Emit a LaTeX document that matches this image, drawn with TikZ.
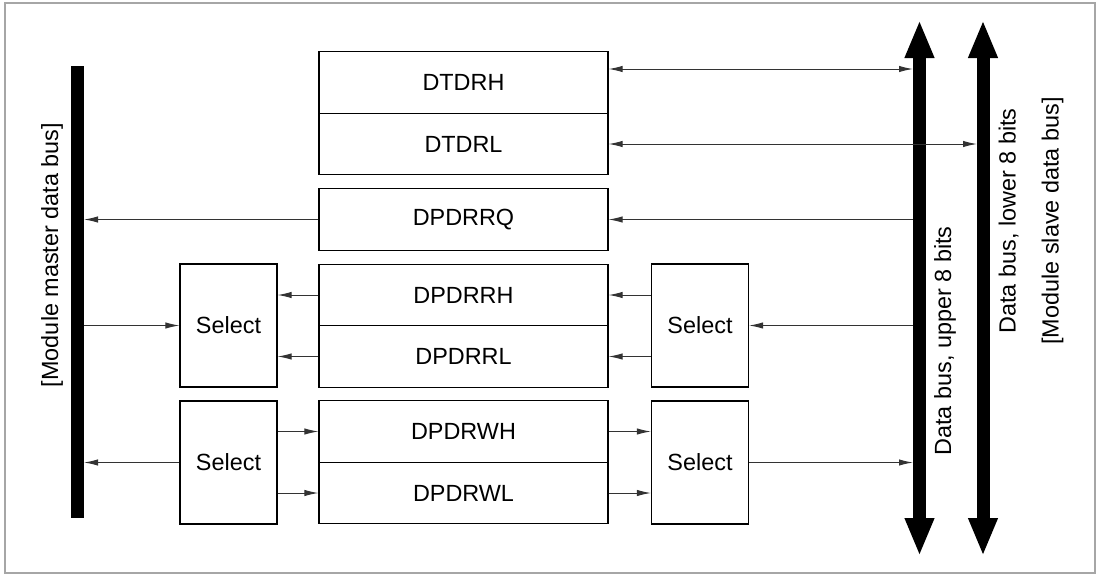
\documentclass[tikz,border=0pt]{standalone}
\usepackage{fontspec}
\setmainfont{Liberation Sans}
\usetikzlibrary{arrows.meta}

\begin{document}
\begin{tikzpicture}[x=0.5pt,y=-0.5pt,
    reg/.style={draw, line width=0.6pt, minimum width=144.5pt, minimum height=30.75pt, inner sep=0pt, font=\fontsize{11.7}{14}\selectfont},
    sel/.style={draw, line width=0.6pt, minimum width=48.5pt, minimum height=61.5pt, inner sep=0pt, font=\fontsize{11.7}{14}\selectfont},
    sig/.style={line width=0.5pt, draw=black!80, -{Latex[length=7pt,width=3.2pt]}},
    sigb/.style={sig, {Latex[length=7pt,width=3.2pt]}-{Latex[length=7pt,width=3.2pt]}},
    bus/.style={line width=6.5pt, {Triangle[length=19pt,width=13.5pt]}-{Triangle[length=19pt,width=13.5pt]}},
    lbl/.style={rotate=90, inner sep=0pt, font=\fontsize{11.7}{21.5}\selectfont, align=center}]
  \useasboundingbox (0,0) rectangle (1100,574);
  \draw[gray!70, line width=0.8pt] (5,3) rectangle (1095,573);

  \fill (71,66) rectangle (84,518);
  \draw[bus] (919.5,20) -- (919.5,556);
  \draw[bus] (983,20) -- (983,556);
  \coordinate (mbus) at (84,300);
  \coordinate (ubus) at (913,300);
  \coordinate (lbus) at (977,300);

  \node[reg] (DTDRH) at (463.5,82.5) {DTDRH};
  \node[reg] (DTDRL) at (463.5,144) {DTDRL};
  \node[reg] (DPDRRQ) at (463.5,219.5) {DPDRRQ};
  \node[reg] (DPDRRH) at (463.5,295) {DPDRRH};
  \node[reg] (DPDRRL) at (463.5,356.5) {DPDRRL};
  \node[reg] (DPDRWH) at (463.5,431.5) {DPDRWH};
  \node[reg] (DPDRWL) at (463.5,493) {DPDRWL};
  \node[sel] (selRL) at (228.5,325.5) {Select};
  \node[sel] (selRR) at (700,325.5) {Select};
  \node[sel] (selWL) at (228.5,462.5) {Select};
  \node[sel] (selWR) at (700,462.5) {Select};

  \draw[sigb] ([yshift=6.75pt]DTDRH.east) -- ([yshift=6.75pt]DTDRH.east -| ubus);
  \draw[sigb] (DTDRL.east) -- (DTDRL.east -| lbus);
  \draw[sig] (DPDRRQ.east -| ubus) -- (DPDRRQ.east);
  \draw[sig] (DPDRRQ.west) -- (DPDRRQ.west -| mbus);
  \draw[sig] (selRR.east -| ubus) -- (selRR.east);
  \draw[sig] (DPDRRH.east -| selRR.west) -- (DPDRRH.east);
  \draw[sig] (DPDRRL.east -| selRR.west) -- (DPDRRL.east);
  \draw[sig] (DPDRRH.west) -- (DPDRRH.west -| selRL.east);
  \draw[sig] (DPDRRL.west) -- (DPDRRL.west -| selRL.east);
  \draw[sig] (selRL.west -| mbus) -- (selRL.west);
  \draw[sig] (selWL.west) -- (selWL.west -| mbus);
  \draw[sig] (DPDRWH.west -| selWL.east) -- (DPDRWH.west);
  \draw[sig] (DPDRWL.west -| selWL.east) -- (DPDRWL.west);
  \draw[sig] (DPDRWH.east) -- (DPDRWH.east -| selWR.west);
  \draw[sig] (DPDRWL.east) -- (DPDRWL.east -| selWR.west);
  \draw[sig] (selWR.east) -- (selWR.east -| ubus);

  \node[lbl] (mlbl) at (52,255) {[Module master data bus]};
  \node[lbl] (ulbl) at (945,341) {Data bus, upper 8 bits};
  \node[lbl] (llbl) at (1031,221) {Data bus, lower 8 bits\\{[Module slave data bus]}};
\end{tikzpicture}
\end{document}
